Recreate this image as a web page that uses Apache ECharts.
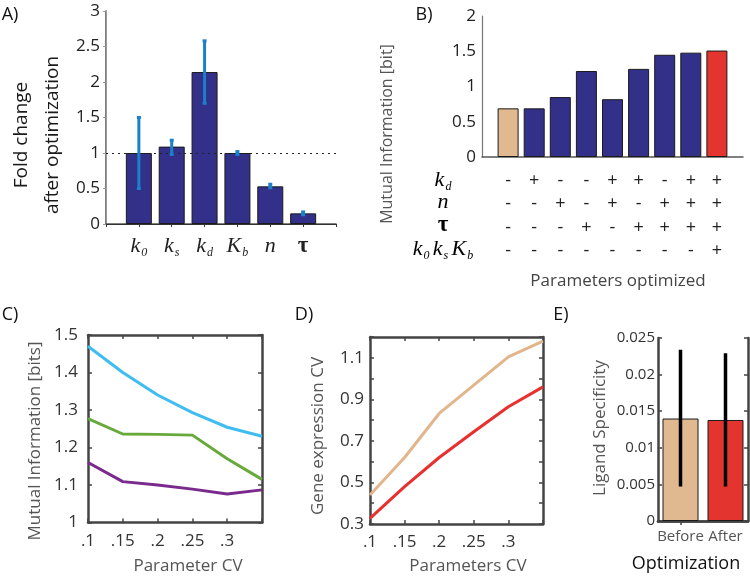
<!DOCTYPE html>
<html><head><meta charset="utf-8">
<script src="https://cdn.jsdelivr.net/npm/echarts@6/dist/echarts.min.js"></script>
<style>html,body{margin:0;padding:0;background:#fff}#c{width:750px;height:577px}</style>
</head><body><div id="c"></div>
<script>
// ---------- Panel A ----------
const aParams = ['k0', 'ks', 'kd', 'Kb', 'n', 'tau'];
const aFold = [1.00, 1.09, 2.14, 1.00, 0.53, 0.15];
const aErrLow = [0.50, 0.98, 1.70, 0.98, 0.51, 0.13];
const aErrHigh = [1.50, 1.18, 2.58, 1.02, 0.56, 0.17];
// ---------- Panel B ----------
const bMI = [0.69, 0.69, 0.85, 1.22, 0.82, 1.25, 1.45, 1.48, 1.51];
const bKd = ['-', '+', '-', '-', '+', '+', '-', '+', '+'];
const bN = ['-', '-', '+', '-', '+', '-', '+', '+', '+'];
const bTau = ['-', '-', '-', '+', '-', '+', '+', '+', '+'];
const bOther = ['-', '-', '-', '-', '-', '-', '-', '-', '+'];
// ---------- Panel C ----------
const cvX = [0.1, 0.15, 0.2, 0.25, 0.3, 0.35];
const cCyan = [1.47, 1.40, 1.34, 1.293, 1.254, 1.23];
const cGreen = [1.277, 1.236, 1.235, 1.233, 1.17, 1.115];
const cPurple = [1.16, 1.109, 1.10, 1.089, 1.076, 1.087];
// ---------- Panel D ----------
const dBefore = [0.44, 0.62, 0.832, 0.968, 1.104, 1.18];
const dAfter = [0.327, 0.48, 0.62, 0.744, 0.864, 0.96];
// ---------- Panel E ----------
const eCats = ['Before', 'After'];
const eSpec = [0.0140, 0.0138];
const eErrLow = [0.0047, 0.0047];
const eErrHigh = [0.0234, 0.0229];

const NAVY = '#33308a', TAN = '#e0b990', RED = '#e3342f';
const SANS = '"Open Sans", Lato, sans-serif';
const SERIF = '"Liberation Serif", "DejaVu Serif", serif';

const mathRich = {
  it: { fontFamily: SERIF, fontStyle: 'italic', fontSize: 22, color: '#222', verticalAlign: 'middle', lineHeight: 26 },
  sub: { fontFamily: SERIF, fontStyle: 'italic', fontSize: 12, color: '#222', verticalAlign: 'bottom', lineHeight: 10, padding: [0, 0, 0, 1] },
  tau: { fontFamily: SERIF, fontWeight: 'bold', fontSize: 23, color: '#222', verticalAlign: 'middle', lineHeight: 26 }
};
function mathLabel(p) {
  if (p === 'tau') return '{tau|τ}';
  if (p === 'n') return '{it|n}';
  return '{it|' + p[0] + '}{sub|' + p.slice(1) + '}';
}

function errRender(color, lw, cap) {
  return function (params, api) {
    const x = api.value(0), lo = api.value(1), hi = api.value(2);
    const p1 = api.coord([x, lo]), p2 = api.coord([x, hi]);
    const ch = [{ type: 'line', shape: { x1: p1[0], y1: p1[1], x2: p2[0], y2: p2[1] }, style: { stroke: color, lineWidth: lw } }];
    if (cap) {
      ch.push({ type: 'rect', shape: { x: p1[0] - 2, y: p1[1] - 1.5, width: 4, height: 3 }, style: { fill: color } });
      ch.push({ type: 'rect', shape: { x: p2[0] - 2, y: p2[1] - 1.5, width: 4, height: 3 }, style: { fill: color } });
    }
    return { type: 'group', children: ch };
  };
}

const tickLbl = { fontFamily: SANS, fontSize: 17, color: '#333' };
const boxLine = { show: true, lineStyle: { color: '#444', width: 2.5 } };
const inTick = { show: true, inside: true, length: 4, lineStyle: { color: '#444', width: 1.5 } };
const noSplit = { show: false };
function cvFmt(v) { const r = Math.round(v * 100) / 100; if (r > 0.31) return ''; return String(r).replace(/^0/, ''); }

const grids = [
  { left: 106, top: 11, width: 230, height: 213 },   // A
  { left: 482, top: 16, width: 261, height: 141 },   // B
  { left: 88, top: 335, width: 174, height: 187.5 }, // C
  { left: 370, top: 337, width: 173, height: 187 },  // D
  { left: 658, top: 338, width: 90, height: 183 }    // E
];

const xAxis = [
  // 0: A bottom
  { gridIndex: 0, type: 'value', min: 0, max: 7, interval: 1, splitLine: noSplit,
    axisLine: { show: true, lineStyle: { color: '#555', width: 1.5 } }, axisTick: { show: false },
    axisLabel: { margin: 9, rich: mathRich, formatter: v => (v >= 1 && v <= 6) ? mathLabel(aParams[v - 1]) : '' } },
  // 1: A top
  { gridIndex: 0, type: 'value', position: 'top', min: 0, max: 7, interval: 1, splitLine: noSplit,
    axisLine: { show: true, lineStyle: { color: '#333', width: 1 } },
    axisTick: { show: true, inside: true, length: 3, lineStyle: { color: '#333' } }, axisLabel: { show: false } },
  // 2: B bottom
  { gridIndex: 1, type: 'value', min: 0, max: 10, interval: 1, splitLine: noSplit,
    axisLine: { show: true, lineStyle: { color: '#555', width: 1.5 } }, axisTick: { show: false },
    axisLabel: { margin: 12, fontFamily: SANS, fontSize: 18, color: '#222', lineHeight: 23.5,
      formatter: v => (v >= 1 && v <= 9) ? [bKd[v - 1], bN[v - 1], bTau[v - 1], bOther[v - 1]].join('\n') : '' } },
  // 3: C bottom
  { gridIndex: 2, type: 'value', min: 0.1, max: 0.35, interval: 0.05, splitLine: noSplit,
    axisLine: boxLine, axisTick: inTick, axisLabel: Object.assign({ margin: 10, formatter: cvFmt }, tickLbl) },
  // 4: C top
  { gridIndex: 2, type: 'value', position: 'top', min: 0.1, max: 0.35, interval: 0.05, splitLine: noSplit,
    axisLine: boxLine, axisTick: inTick, axisLabel: { show: false } },
  // 5: D bottom
  { gridIndex: 3, type: 'value', min: 0.1, max: 0.35, interval: 0.05, splitLine: noSplit,
    axisLine: boxLine, axisTick: inTick, axisLabel: Object.assign({ margin: 10, formatter: cvFmt }, tickLbl) },
  // 6: D top
  { gridIndex: 3, type: 'value', position: 'top', min: 0.1, max: 0.35, interval: 0.05, splitLine: noSplit,
    axisLine: boxLine, axisTick: inTick, axisLabel: { show: false } },
  // 7: E bottom
  { gridIndex: 4, type: 'category', data: eCats, splitLine: noSplit,
    axisLine: boxLine, axisTick: { show: false },
    axisLabel: Object.assign({ margin: 8, interval: 0 }, tickLbl, { color: '#555', fontSize: 15 }) },
  // 8: E top
  { gridIndex: 4, type: 'category', position: 'top', data: eCats, splitLine: noSplit,
    axisLine: boxLine, axisTick: Object.assign({ alignWithLabel: true }, inTick), axisLabel: { show: false } }
];

const yAxis = [
  // 0: A left
  { gridIndex: 0, type: 'value', min: 0, max: 3, interval: 0.5, splitLine: noSplit,
    axisLine: { show: true, lineStyle: { color: '#555', width: 1.5 } }, axisTick: { show: false },
    axisLabel: Object.assign({ margin: 6 }, tickLbl, { fontSize: 17, color: '#222' }) },
  // 1: A right
  { gridIndex: 0, type: 'value', position: 'right', min: 0, max: 3, interval: 0.5, splitLine: noSplit,
    axisLine: { show: true, lineStyle: { color: '#999', width: 1 } },
    axisTick: { show: true, inside: true, length: 3, lineStyle: { color: '#999' } }, axisLabel: { show: false } },
  // 2: B left
  { gridIndex: 1, type: 'value', min: 0, max: 2, interval: 0.5, splitLine: noSplit,
    axisLine: { show: true, lineStyle: { color: '#777', width: 1.2 } }, axisTick: { show: false },
    axisLabel: Object.assign({ margin: 6 }, tickLbl, { fontSize: 17, color: '#222' }) },
  // 3: C left
  { gridIndex: 2, type: 'value', min: 1, max: 1.5, interval: 0.1, splitLine: noSplit,
    axisLine: boxLine, axisTick: inTick, axisLabel: Object.assign({ margin: 10 }, tickLbl) },
  // 4: C right
  { gridIndex: 2, type: 'value', position: 'right', min: 1, max: 1.5, interval: 0.1, splitLine: noSplit,
    axisLine: boxLine, axisTick: inTick, axisLabel: { show: false } },
  // 5: D left
  { gridIndex: 3, type: 'value', min: 0.3, max: 1.2, interval: 0.1, splitLine: noSplit,
    axisLine: boxLine, axisTick: inTick,
    axisLabel: Object.assign({ margin: 6, formatter: v => { const k = Math.round(v * 10); return (k % 2 === 1 && k < 12) ? (k / 10).toFixed(1) : ''; } }, tickLbl) },
  // 6: D right
  { gridIndex: 3, type: 'value', position: 'right', min: 0.3, max: 1.2, interval: 0.1, splitLine: noSplit,
    axisLine: boxLine, axisTick: inTick, axisLabel: { show: false } },
  // 7: E left
  { gridIndex: 4, type: 'value', min: 0, max: 0.025, interval: 0.005, splitLine: noSplit,
    axisLine: boxLine, axisTick: inTick, axisLabel: Object.assign({ margin: 3 }, tickLbl, { fontSize: 15 }) },
  // 8: E right
  { gridIndex: 4, type: 'value', position: 'right', min: 0, max: 0.025, interval: 0.005, splitLine: noSplit,
    axisLine: boxLine, axisTick: inTick, axisLabel: { show: false } }
];

const barBorder = { borderColor: '#1a1a1a', borderWidth: 1 };
const series = [
  // A bars
  { type: 'bar', xAxisIndex: 0, yAxisIndex: 0, barWidth: 26, silent: true,
    data: aFold.map((v, i) => [i + 1, v]), itemStyle: Object.assign({ color: NAVY }, barBorder),
    markLine: { silent: true, symbol: 'none', label: { show: false },
      lineStyle: { color: '#222', type: [2, 4], width: 1.2 }, data: [{ yAxis: 1 }] } },
  // A errors
  { type: 'custom', xAxisIndex: 0, yAxisIndex: 0, silent: true, z: 5,
    data: aFold.map((v, i) => [i + 1, aErrLow[i], aErrHigh[i]]), renderItem: errRender('#1a80c9', 3, true) },
  // B bars
  { type: 'bar', xAxisIndex: 2, yAxisIndex: 2, barWidth: 21, silent: true,
    data: bMI.map((v, i) => [i + 1, v]),
    itemStyle: Object.assign({ color: p => p.dataIndex === 0 ? TAN : (p.dataIndex === bMI.length - 1 ? RED : NAVY) }, barBorder) },
  // C lines
  { type: 'line', xAxisIndex: 3, yAxisIndex: 3, showSymbol: false, silent: true,
    data: cvX.map((x, i) => [x, cCyan[i]]), lineStyle: { color: '#3fbdf0', width: 3 } },
  { type: 'line', xAxisIndex: 3, yAxisIndex: 3, showSymbol: false, silent: true,
    data: cvX.map((x, i) => [x, cGreen[i]]), lineStyle: { color: '#68a93b', width: 3 } },
  { type: 'line', xAxisIndex: 3, yAxisIndex: 3, showSymbol: false, silent: true,
    data: cvX.map((x, i) => [x, cPurple[i]]), lineStyle: { color: '#7a2a8c', width: 3 } },
  // D lines
  { type: 'line', xAxisIndex: 5, yAxisIndex: 5, showSymbol: false, silent: true,
    data: cvX.map((x, i) => [x, dBefore[i]]), lineStyle: { color: '#e2b68c', width: 3 } },
  { type: 'line', xAxisIndex: 5, yAxisIndex: 5, showSymbol: false, silent: true,
    data: cvX.map((x, i) => [x, dAfter[i]]), lineStyle: { color: '#e8302e', width: 3 } },
  // E bars
  { type: 'bar', xAxisIndex: 7, yAxisIndex: 7, barWidth: 36, silent: true,
    data: eSpec, itemStyle: Object.assign({ color: p => p.dataIndex === 0 ? TAN : RED }, barBorder) },
  { type: 'custom', xAxisIndex: 7, yAxisIndex: 7, silent: true, z: 5,
    data: eSpec.map((v, i) => [i, eErrLow[i], eErrHigh[i]]), renderItem: errRender('#000', 3.5, false) }
];

function txt(x, y, text, opts) {
  return Object.assign({ type: 'text', x: x, y: y, silent: true,
    style: Object.assign({ text: text, fontFamily: SANS, fontSize: 18, fill: '#444', textAlign: 'center', textVerticalAlign: 'middle' }, (opts && opts.style) || {}) },
    opts && opts.rotation ? { rotation: opts.rotation } : {});
}
const ROT = Math.PI / 2;
const rowLabels = [
  { y: 180, text: '{it|k}{sub|d}' },
  { y: 202, text: '{it|n}' },
  { y: 225.5, text: '{tau|τ}' },
  { y: 249, text: '{it|k}{sub|0} {it|k}{sub|s} {it|K}{sub|b}' }
];
const graphic = [
  txt(10, 15, 'A)', { style: { fill: '#111', fontSize: 18 } }),
  txt(424, 15, 'B)', { style: { fill: '#111', fontSize: 18 } }),
  txt(10, 315, 'C)', { style: { fill: '#111', fontSize: 18 } }),
  txt(304, 315, 'D)', { style: { fill: '#111', fontSize: 18 } }),
  txt(561, 315, 'E)', { style: { fill: '#111', fontSize: 18 } }),
  txt(37, 135, 'Fold change\nafter optimization', { rotation: ROT, style: { fill: '#1a1a1a', fontSize: 19, lineHeight: 31 } }),
  txt(387, 134, 'Mutual Information [bit]', { rotation: ROT, style: { fontSize: 16, fill: '#555' } }),
  txt(618, 281, 'Parameters optimized', { style: { fontSize: 17, fill: '#444' } }),
  txt(35, 441, 'Mutual Information [bits]', { rotation: ROT, style: { fontSize: 17, fill: '#555' } }),
  txt(188, 566, 'Parameter CV', { style: { fontSize: 17, fill: '#555' } }),
  txt(318, 436, 'Gene expression CV', { rotation: ROT, style: { fontSize: 17, fill: '#555' } }),
  txt(468, 566, 'Parameters CV', { style: { fontSize: 17, fill: '#555' } }),
  txt(600, 428, 'Ligand Specificity', { rotation: ROT, style: { fontSize: 17, fill: '#555' } }),
  txt(686, 564, 'Optimization', { style: { fontSize: 18, fill: '#111' } })
].concat(rowLabels.map(r => ({ type: 'text', x: 443, y: r.y, silent: true,
  style: { text: r.text, rich: mathRich, textAlign: 'center', textVerticalAlign: 'middle' } })));

const chart = echarts.init(document.getElementById('c'), null, { renderer: 'canvas' });
chart.setOption({ animation: false, backgroundColor: '#fff', grid: grids, xAxis: xAxis, yAxis: yAxis, series: series, graphic: graphic });
</script>
</body></html>
